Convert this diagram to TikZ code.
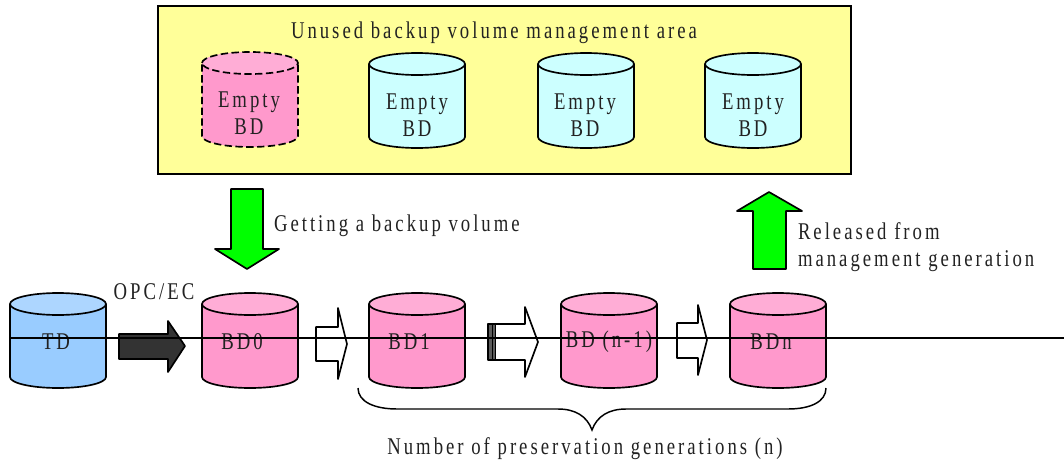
\documentclass[tikz,border=0pt]{standalone}
\usepackage{fontspec}
\setmainfont[LetterSpace=12.5,FakeStretch=0.78]{Liberation Serif}
\definecolor{pinkb}{HTML}{FF99CC}
\definecolor{pinkt}{HTML}{FFADD6}
\definecolor{blueb}{HTML}{99CCFF}
\definecolor{bluet}{HTML}{ADD6FF}
\definecolor{cyanb}{HTML}{CCFFFF}
\definecolor{yellowb}{HTML}{FFFF99}
\definecolor{greena}{HTML}{00FF00}
\definecolor{darka}{HTML}{333333}
\definecolor{inkc}{HTML}{222222}
\newcommand{\cylshape}[5]{% x, y, body, top, style
  \begin{scope}[shift={(#1,#2)}]
    \path[fill=#3] (0,11) .. controls (0,5) and (21,0) .. (48,0) .. controls (75,0) and (96,5) .. (96,11) -- (96,84) .. controls (96,90) and (75,95) .. (48,95) .. controls (21,95) and (0,90) .. (0,84) -- cycle;
    \path[fill=#4] (0,11) .. controls (0,5) and (21,0) .. (48,0) .. controls (75,0) and (96,5) .. (96,11) .. controls (96,17) and (75,22) .. (48,22) .. controls (21,22) and (0,17) .. (0,11) -- cycle;
    \draw[shapeline,#5] (0,11) .. controls (0,5) and (21,0) .. (48,0) .. controls (75,0) and (96,5) .. (96,11) .. controls (96,17) and (75,22) .. (48,22) .. controls (21,22) and (0,17) .. (0,11) -- (0,84) .. controls (0,90) and (21,95) .. (48,95) .. controls (75,95) and (96,90) .. (96,84) -- (96,11);
  \end{scope}}
\tikzset{
  x=0.75pt,y=-0.75pt,
  shapeline/.style={draw=black,line width=1.25pt,line join=round},
  solidstyle/.style={},
  dashstyle/.style={dash pattern=on 5.5pt off 2.6pt},
  label/.style={inner sep=0pt,outer sep=0pt,text=inkc,font=\fontsize{18}{20.5}\selectfont,align=center},
  leftlabel/.style={label,anchor=west,align=left},
  arrowshape/.style={shapeline,fill=#1},
  mainline/.style={draw=black,line width=1.25pt},
}
\begin{document}
\begin{tikzpicture}
\useasboundingbox (0,0) rectangle (1064,464);
\fill[white] (0,0) rectangle (1064,464);
% management area
\node[draw=black,line width=1.25pt,fill=yellowb,minimum width=519.75pt,minimum height=126pt,inner sep=0pt,anchor=north west] (area) at (157,5) {};
\node[leftlabel] (areatitle) at (291,33) {Unused backup volume management area};
% empty volumes
\cylshape{202}{52}{pinkb}{pinkt}{dashstyle}
\cylshape{369}{53}{cyanb}{cyanb}{solidstyle}
\cylshape{538}{53}{cyanb}{cyanb}{solidstyle}
\cylshape{705}{53}{cyanb}{cyanb}{solidstyle}
\node[label] (e0) at (249,113) {Empty\\BD};
\node[label] (e1) at (417,115) {Empty\\BD};
\node[label] (e2) at (585,115) {Empty\\BD};
\node[label] (e3) at (753,115) {Empty\\BD};
% green arrows
\draw[arrowshape=greena] (231,189) -- (263,189) -- (263,249) -- (279,249) -- (247,269) -- (215,249) -- (231,249) -- cycle;
\draw[arrowshape=greena] (753,269) -- (786,269) -- (786,211) -- (802,211) -- (769,192) -- (737,211) -- (753,211) -- cycle;
\node[leftlabel] (getting) at (274,226) {Getting a backup volume};
\node[leftlabel] (released) at (798,247) {Released from\\management generation};
% volumes
\cylshape{10}{293}{blueb}{bluet}{solidstyle}
\cylshape{202}{293}{pinkb}{pinkt}{solidstyle}
\cylshape{369}{293}{pinkb}{pinkt}{solidstyle}
\cylshape{561}{293}{pinkb}{pinkt}{solidstyle}
\cylshape{730}{293}{pinkb}{pinkt}{solidstyle}
\node[label] (opc) at (154,292) {OPC/EC};
% block arrows
\draw[arrowshape=darka] (119,334) -- (168,334) -- (168,321) -- (185,346) -- (168,372) -- (168,359) -- (119,359) -- cycle;
\draw[arrowshape=white] (316,327) -- (338,327) -- (338,308) -- (347,344) -- (338,379) -- (338,361) -- (316,361) -- cycle;
\draw[shapeline,fill=darka!80] (488,324) rectangle (496,360);
\draw[line width=0.7pt] (492,324) -- (492,360);
\draw[arrowshape=white] (496,324) -- (525,324) -- (525,307) -- (538,342) -- (525,377) -- (525,360) -- (496,360);
\draw[arrowshape=white] (677,323) -- (698,323) -- (698,305) -- (707,340) -- (698,375) -- (698,358) -- (677,358) -- cycle;
% volume labels
\node[label] (td) at (56,342) {TD};
\node[label] (bd0) at (242,342) {BD0};
\node[label] (bd1) at (409,342) {BD1};
\node[label] (bdn1) at (609,342) {BD (n-1)};
\node[label] (bdn) at (771,342) {BDn};
% brace
\draw[line width=1.1pt] (358,388) .. controls (358,402) and (375,409) .. (397,409) -- (558,409) .. controls (575,409) and (587,416) .. (592,430) .. controls (597,416) and (609,409) .. (626,409) -- (788,409) .. controls (810,409) and (826,402) .. (826,388);
\node[label] (count) at (585,449) {Number of preservation generations (n)};
% straight line across
\coordinate (linestart) at (10,338);
\coordinate (lineend) at (1064,338);
\draw[mainline] (linestart) -- (lineend);
\end{tikzpicture}
\end{document}
